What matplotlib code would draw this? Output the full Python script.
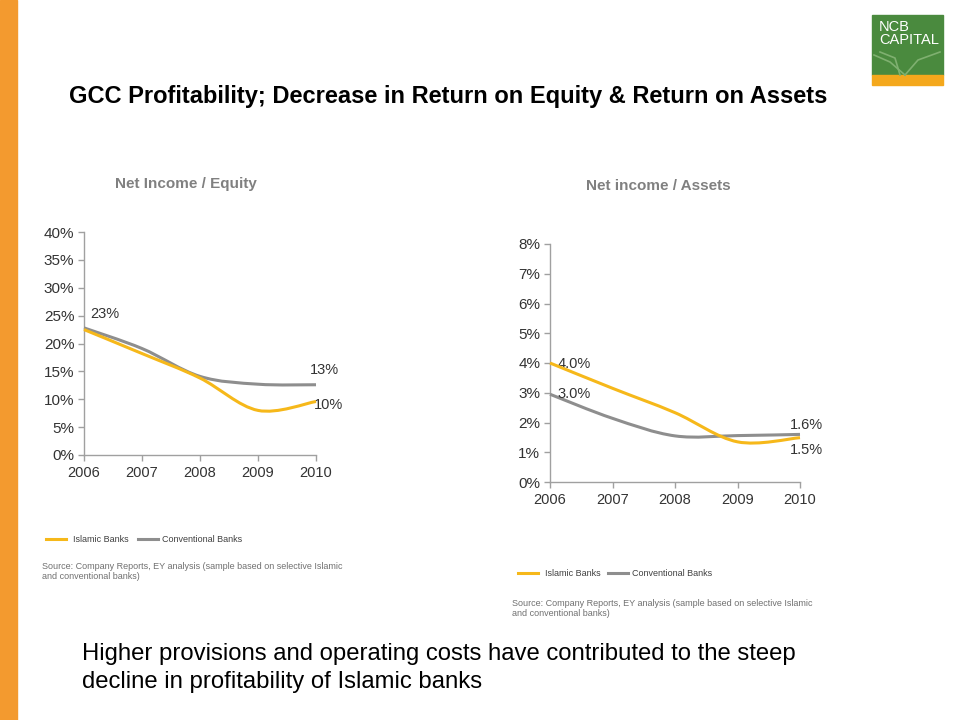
import matplotlib
matplotlib.use("Agg")
import matplotlib.pyplot as plt
from matplotlib.path import Path
from matplotlib.patches import PathPatch, Rectangle
from matplotlib.lines import Line2D

plt.rcParams['font.family'] = ['Liberation Sans', 'DejaVu Sans']

years = [2006, 2007, 2008, 2009, 2010]
roe_islamic = [22.5, 18.2, 13.8, 8.0, 9.6]
roe_conventional = [22.8, 19.1, 14.1, 12.7, 12.6]
roa_islamic = [4.0, 3.15, 2.33, 1.35, 1.49]
roa_conventional = [2.95, 2.14, 1.55, 1.56, 1.60]
roe_ticks = [0, 5, 10, 15, 20, 25, 30, 35, 40]
roa_ticks = [0, 1, 2, 3, 4, 5, 6, 7, 8]

YELLOW = '#F6B81A'
GREY = '#8E8E8E'
TXT = '#333333'

W, H = 960, 720
fig = plt.figure(figsize=(9.6, 7.2), dpi=100)
fig.patch.set_facecolor('white')


def fx(px):
    return px / W


def fy(py):
    return 1 - py / H


# left orange bar
fig.patches.append(Rectangle((0, 0), fx(17), 1, transform=fig.transFigure,
                             color='#F39A2F', zorder=0))
# logo
fig.patches.append(Rectangle((fx(872), fy(75)), fx(71), 60 / H, transform=fig.transFigure,
                             color='#4A8A3E', zorder=1))
fig.patches.append(Rectangle((fx(872), fy(85)), fx(71), 10 / H, transform=fig.transFigure,
                             color='#F4A81C', zorder=1))
fig.text(fx(879), fy(20), 'NCB\nCAPITAL', color='white', fontsize=10.5,
         va='top', ha='left', linespacing=0.95, zorder=2)
for xs, ys in [([874, 890, 905], [55, 62, 75]), ([905, 918, 940], [75, 60, 52]),
               ([880, 895, 900], [52, 58, 75])]:
    fig.lines.append(Line2D([fx(v) for v in xs], [fy(v) for v in ys],
                            transform=fig.transFigure, color='#7FB070', lw=1.2, zorder=2))

fig.text(fx(448), fy(96), 'GCC Profitability; Decrease in Return on Equity & Return on Assets',
         fontsize=17, fontweight='bold', ha='center', va='center', color='black')


def smooth_path(xs, ys):
    pts = list(zip(xs, ys))
    n = len(pts)
    verts = [pts[0]]
    codes = [Path.MOVETO]
    for i in range(n - 1):
        p0 = pts[i - 1] if i > 0 else pts[i]
        p1 = pts[i]
        p2 = pts[i + 1]
        p3 = pts[i + 2] if i + 2 < n else pts[i + 1]
        c1 = (p1[0] + (p2[0] - p0[0]) / 6, p1[1] + (p2[1] - p0[1]) / 6)
        c2 = (p2[0] - (p3[0] - p1[0]) / 6, p2[1] - (p3[1] - p1[1]) / 6)
        verts += [c1, c2, p2]
        codes += [Path.CURVE4] * 3
    return Path(verts, codes)


def setup_axes(ax, ticks, ymax):
    ax.set_xlim(2006, 2010)
    ax.set_ylim(0, ymax)
    ax.set_xticks(years)
    ax.set_xticklabels([str(y) for y in years], fontsize=10.5)
    ax.set_yticks(ticks)
    ax.set_yticklabels([f'{t}%' for t in ticks], fontsize=11)
    for s in ['top', 'right']:
        ax.spines[s].set_visible(False)
    for s in ['left', 'bottom']:
        ax.spines[s].set_color('#A0A0A0')
        ax.spines[s].set_linewidth(1.0)
    ax.tick_params(axis='both', colors='#A0A0A0', labelcolor=TXT,
                   length=4, width=1, direction='out')
    ax.tick_params(axis='x', pad=4)
    ax.tick_params(axis='y', pad=3)
    ax.set_facecolor('none')


# Left chart
ax1 = fig.add_axes([fx(84), fy(455), fx(316) - fx(84), (455 - 232) / H])
setup_axes(ax1, roe_ticks, 40)
ax1.add_patch(PathPatch(smooth_path(years, roe_conventional), fill=False,
                        edgecolor=GREY, lw=2.2, clip_on=False, zorder=3))
ax1.add_patch(PathPatch(smooth_path(years, roe_islamic), fill=False,
                        edgecolor=YELLOW, lw=2.2, clip_on=False, zorder=4))
ax1.text(2006.1, 25.3, f'{roe_conventional[0]:.0f}%', fontsize=10.5, color=TXT,
         ha='left', va='center')
ax1.text(2010.15, 15.3, f'{roe_conventional[-1]:.0f}%', fontsize=10.5, color=TXT,
         ha='center', va='center')
ax1.text(2009.97, 9.0, f'{roe_islamic[-1]:.0f}%', fontsize=10.5, color=TXT,
         ha='left', va='center')
fig.text(fx(186), fy(184), 'Net Income / Equity', fontsize=11, fontweight='bold',
         color='#808080', ha='center', va='center')

# Right chart
ax2 = fig.add_axes([fx(550), fy(482), fx(800) - fx(550), (482 - 244) / H])
setup_axes(ax2, roa_ticks, 8)
ax2.add_patch(PathPatch(smooth_path(years, roa_conventional), fill=False,
                        edgecolor=GREY, lw=2.2, clip_on=False, zorder=3))
ax2.add_patch(PathPatch(smooth_path(years, roa_islamic), fill=False,
                        edgecolor=YELLOW, lw=2.2, clip_on=False, zorder=4))
ax2.text(2006.12, roa_islamic[0] - 0.05, f'{roa_islamic[0]:.1f}%', fontsize=10.5, color=TXT,
         ha='left', va='center')
ax2.text(2006.12, roa_conventional[0], f'{roa_conventional[0]:.1f}%', fontsize=10.5,
         color=TXT, ha='left', va='center')
ax2.text(2010.1, 1.9, f'{roa_conventional[-1]:.1f}%', fontsize=10.5, color=TXT,
         ha='center', va='center')
ax2.text(2010.1, 1.06, f'{roa_islamic[-1]:.1f}%', fontsize=10.5, color=TXT,
         ha='center', va='center')
fig.text(fx(658), fy(186), 'Net income / Assets', fontsize=11, fontweight='bold',
         color='#808080', ha='center', va='center')


def legend(x0, y, gap):
    fig.lines.append(Line2D([fx(x0), fx(x0 + 20)], [fy(y), fy(y)], transform=fig.transFigure,
                            color=YELLOW, lw=2.2))
    fig.text(fx(x0 + 27), fy(y), 'Islamic Banks', fontsize=6.5, color='#404040',
             ha='left', va='center')
    x1 = x0 + gap
    fig.lines.append(Line2D([fx(x1), fx(x1 + 20)], [fy(y), fy(y)], transform=fig.transFigure,
                            color=GREY, lw=2.2))
    fig.text(fx(x1 + 24), fy(y), 'Conventional Banks', fontsize=6.5, color='#404040',
             ha='left', va='center')


legend(46, 539, 92)
legend(518, 573, 90)

src = 'Source: Company Reports, EY analysis (sample based on selective Islamic\nand conventional banks)'
fig.text(fx(42), fy(562), src, fontsize=6.5, color='#707070', ha='left', va='top',
         linespacing=1.15)
fig.text(fx(512), fy(599), src, fontsize=6.5, color='#707070', ha='left', va='top',
         linespacing=1.15)

fig.text(fx(82), fy(654), 'Higher provisions and operating costs have contributed to the steep',
         fontsize=17.2, color='black', ha='left', va='center')
fig.text(fx(82), fy(682), 'decline in profitability of Islamic banks',
         fontsize=17.2, color='black', ha='left', va='center')

fig.savefig('out.png', dpi=100)
